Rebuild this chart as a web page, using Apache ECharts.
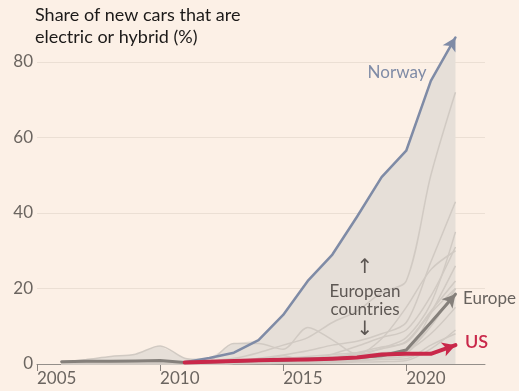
<!DOCTYPE html>
<html>
<head>
<meta charset="utf-8">
<script src="https://cdn.jsdelivr.net/npm/echarts@6.0.0/dist/echarts.min.js"></script>
<style>
  html, body { margin: 0; padding: 0; background: #fcf0e6; }
  #chart { width: 519px; height: 391px; }
</style>
</head>
<body>
<div id="chart"></div>
<script>
// Year-end positions of each annual value
const years = [2006, 2007, 2008, 2009, 2010, 2011, 2012, 2013, 2014, 2015, 2016, 2017, 2018, 2019, 2020, 2021, 2022];
const xTicks = [2005, 2010, 2015, 2020];
const yTicks = [0, 20, 40, 60, 80];

// Highlighted series (share of new cars, %)
const norway = [null, null, null, null, null, 0.5, 1.6, 3.0, 6.3, 13, 22, 29, 39, 49.5, 56.5, 75, 86.5];
const europe = [0.6, 0.7, 0.7, 0.8, 0.9, 0.4, 0.5, 0.7, 0.9, 1.0, 1.3, 1.4, 1.7, 2.2, 3.7, 11, 18.5];
const us     = [null, null, null, null, null, 0.4, 0.6, 0.8, 1.0, 1.1, 1.2, 1.4, 1.7, 2.5, 2.7, 2.7, 5.0];

// Other European countries (background lines)
const iceland     = [0, 0, 0, 0.2, 0.3, 0.5, 0.8, 1.5, 3, 5, 7, 11, 14, 19, 22, 50, 72];
const sweden      = [0.2, 0.3, 0.4, 0.5, 0.6, 0.5, 0.6, 0.8, 1.5, 2.4, 3.5, 5, 6, 8, 11, 27, 43];
const denmark     = [0, 0, 0, 0, 0, 0.2, 0.5, 0.5, 0.9, 2.2, 0.6, 0.5, 2, 4.2, 7, 16, 35];
const finland     = [0, 0, 0, 0, 0, 0, 0.1, 0.2, 0.5, 0.8, 1.2, 2.6, 4.7, 7.0, 9, 18, 31];
const netherlands = [0, 0, 0, 0, 0, 0.2, 0.8, 5.4, 5.4, 3.9, 9.7, 6.4, 2.6, 6.7, 15, 25, 30];
const germany     = [0, 0, 0, 0, 0, 0, 0.1, 0.2, 0.4, 0.7, 0.7, 0.7, 1.6, 2, 3, 13.5, 26];
const switzerland = [0, 0, 0, 0, 0, 0, 0.2, 0.5, 1, 1.5, 2, 2.5, 3, 4, 6, 14, 22];
const austria     = [0, 0, 0, 0, 0, 0, 0.1, 0.3, 0.5, 0.8, 1.3, 2, 2.5, 3, 3.6, 10, 20];
const portugal    = [0, 0, 0, 0, 0, 0, 0.1, 0.2, 0.3, 0.5, 0.9, 1.5, 3, 4.5, 5.7, 13.5, 20];
const uk          = [0, 0, 0, 0, 0, 0, 0.1, 0.2, 0.6, 1.1, 1.2, 1.4, 1.9, 2.5, 3, 11, 18.5];
const belgium     = [0, 0, 0, 0, 0, 0, 0.1, 0.3, 0.5, 0.9, 1.2, 1.6, 2, 2.7, 3.2, 11, 18];
const ireland     = [0, 0, 0, 0, 0, 0, 0.1, 0.2, 0.3, 0.4, 0.6, 0.8, 1, 2.5, 3.4, 8, 15];
const estonia     = [0.5, 1.2, 2.0, 2.6, 4.8, 1.5, 0.8, 0.6, 0.5, 0.6, 0.7, 0.8, 1, 1.5, 2, 3, 5];
const italy       = [0, 0, 0, 0, 0, 0, 0, 0.1, 0.1, 0.2, 0.2, 0.3, 0.5, 0.6, 0.9, 4, 9];
const spain       = [0, 0, 0, 0, 0, 0, 0, 0.1, 0.2, 0.3, 0.4, 0.5, 0.8, 1.2, 1.4, 5, 8];

const others = [iceland, sweden, denmark, finland, netherlands, germany, switzerland, austria,
                portugal, uk, belgium, ireland, estonia, italy, spain];

const COLORS = {
  bg: '#fcf0e6',
  band: '#e6dfd8',
  faint: '#d1cac3',
  norway: '#7f8ba6',
  europe: '#85807b',
  us: '#c9284a',
  axisText: '#6b6560',
  grid: '#ebdfd4'
};
const FONT = 'Lato, "Open Sans", sans-serif';

function toPairs(arr) {
  const out = [];
  arr.forEach((v, i) => { if (v != null) out.push([years[i], v]); });
  return out;
}

// Upper envelope of all European countries, shaded behind the lines
const envelope = years.map((y, i) => {
  let m = norway[i] || 0;
  others.forEach(a => { if (a[i] > m) m = a[i]; });
  return [y, m];
});

const chart = echarts.init(document.getElementById('chart'), null, { renderer: 'canvas' });

function lineSeries(name, arr, color, width, z) {
  return {
    name, type: 'line', data: toPairs(arr), z,
    clip: false, showSymbol: true, showAllSymbol: true, symbol: 'none',
    lineStyle: { color, width, cap: 'round', join: 'round' },
    itemStyle: { color },
    emphasis: { disabled: true }, silent: true
  };
}

const series = [
  {
    name: 'band', type: 'line', data: envelope, z: 1, clip: false, symbol: 'none',
    lineStyle: { width: 0 }, areaStyle: { color: COLORS.band, opacity: 1 },
    silent: true
  }
];
others.forEach((arr, k) => {
  series.push({
    name: 'c' + k, type: 'line', data: toPairs(arr), z: 2, clip: false, symbol: 'none',
    smooth: 0.3, lineStyle: { color: COLORS.faint, width: 1.5 }, silent: true
  });
});
const hiEurope = lineSeries('Europe', europe, COLORS.europe, 3, 4);
const hiNorway = lineSeries('Norway', norway, COLORS.norway, 2.5, 5);
const hiUS = lineSeries('US', us, COLORS.us, 4, 6);
series.push(hiEurope, hiNorway, hiUS);

const option = {
  backgroundColor: COLORS.bg,
  animation: false,
  grid: { left: 37, right: 34, top: 62, bottom: 27, containLabel: false },
  xAxis: {
    type: 'value', min: 2005, max: 2023.2,
    axisLine: { show: true, lineStyle: { color: '#948f8a', width: 1 } },
    axisTick: { show: true, length: 7, inside: false, customValues: xTicks, lineStyle: { color: '#8a847f', width: 1 } },
    axisLabel: {
      customValues: xTicks, align: 'left', margin: 6,
      color: COLORS.axisText, fontFamily: FONT, fontSize: 17, formatter: v => String(v)
    },
    splitLine: { show: false }
  },
  yAxis: {
    type: 'value', min: 0, max: 80, interval: 20,
    axisLine: { show: false }, axisTick: { show: false },
    axisLabel: { margin: 4, color: COLORS.axisText, fontFamily: FONT, fontSize: 17,
                 customValues: yTicks },
    splitLine: { show: true, lineStyle: { color: COLORS.grid, width: 1 } }
  },
  series,
  graphic: [
    { type: 'text', left: 35, top: 4, z: 10, silent: true,
      style: { text: 'Share of new cars that are\nelectric or hybrid (%)', font: '18px ' + FONT,
               fill: '#1c1a19', lineHeight: 22 } },
    { type: 'text', x: 397, y: 73, z: 10, silent: true,
      style: { text: 'Norway', font: '17px ' + FONT, fill: COLORS.norway, align: 'center', verticalAlign: 'middle' } },
    { type: 'text', x: 365, y: 301, z: 10, silent: true,
      style: { text: 'European\ncountries', font: '17px ' + FONT, fill: '#5d5753', align: 'center',
               verticalAlign: 'middle', lineHeight: 18 } },
    { type: 'text', x: 365, y: 268, z: 10, silent: true,
      style: { text: '↑', font: '20px "DejaVu Sans"', fill: '#5d5753', align: 'center', verticalAlign: 'middle' } },
    { type: 'text', x: 365, y: 330, z: 10, silent: true,
      style: { text: '↓', font: '20px "DejaVu Sans"', fill: '#5d5753', align: 'center', verticalAlign: 'middle' } },
    { type: 'text', x: 463, y: 299, z: 10, silent: true,
      style: { text: 'Europe', font: '17px ' + FONT, fill: '#67625e', verticalAlign: 'middle' } },
    { type: 'text', x: 465, y: 342, z: 10, silent: true,
      style: { text: 'US', font: '600 18px ' + FONT, fill: COLORS.us, verticalAlign: 'middle' } }
  ]
};

chart.setOption(option);

// Arrowheads on the last point of each highlighted line, aimed along the final segment
function withArrow(s) {
  const d = s.data;
  const n = d.length;
  const p1 = chart.convertToPixel({ gridIndex: 0 }, d[n - 2]);
  const p2 = chart.convertToPixel({ gridIndex: 0 }, d[n - 1]);
  const ang = Math.atan2(-(p2[0] - p1[0]), -(p2[1] - p1[1])) * 180 / Math.PI;
  const data = d.map((p, i) => i === n - 1
    ? { value: p, symbol: 'arrow', symbolSize: [11, 13], symbolRotate: ang }
    : { value: p, symbol: 'none' });
  return { name: s.name, data };
}
chart.setOption({ series: [withArrow(hiEurope), withArrow(hiNorway), withArrow(hiUS)] });
</script>
</body>
</html>
